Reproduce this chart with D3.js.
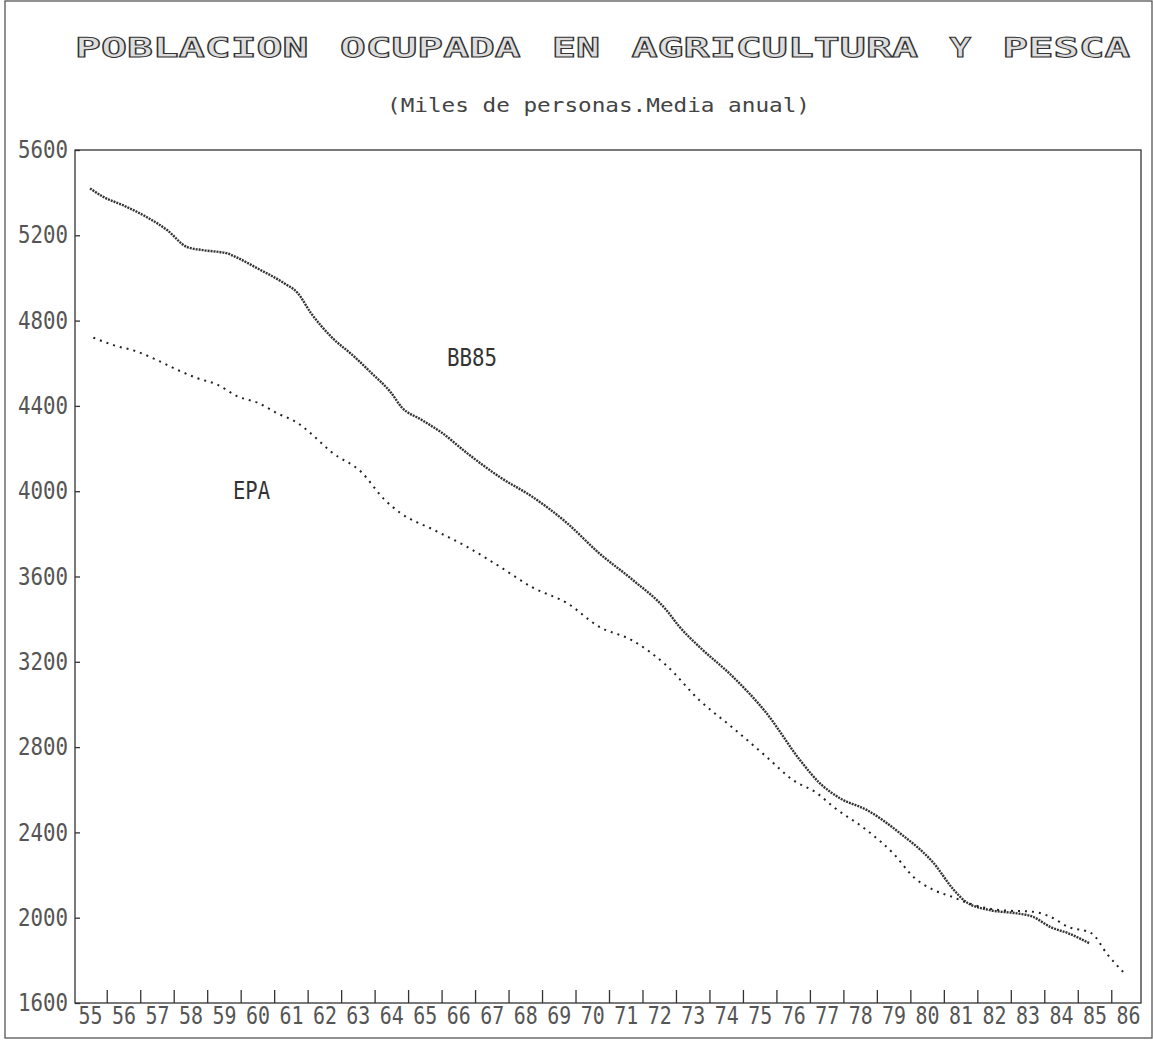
<!DOCTYPE html>
<html lang="es">
<head>
    <meta charset="UTF-8">
    <title>Poblacion ocupada en agricultura y pesca</title>
    <script src="https://d3js.org/d3.v7.min.js"></script>
    <style>
        body { margin: 0; background: #fff; }
        svg { display: block; }
        .mono { font-family: "DejaVu Sans Mono", "Liberation Mono", monospace; }
        .axis path, .axis line { stroke: #333; stroke-width: 1.3; }
        .axis text { font-family: "DejaVu Sans Mono", monospace; fill: #555; }
    </style>
</head>
<body>
<svg width="1153" height="1043"></svg>
<script>
    // --- data (years 19xx, thousands of persons) ---
    const yearLabels = d3.range(55, 87);
    const yTicks = [1600, 2000, 2400, 2800, 3200, 3600, 4000, 4400, 4800, 5200, 5600];

    const titleWords = ["POBLACION", "OCUPADA", "EN", "AGRICULTURA", "Y", "PESCA"];

    const bb85Years = [55.0, 55.4, 56.0, 56.7, 57.3, 57.9, 58.4, 59.1, 59.4, 60.0, 60.8, 61.2, 61.6,
        62.2, 62.9, 63.4, 64.0, 64.3, 64.9, 65.5, 66.25, 67.25, 68.2, 69.25, 70.2, 71.2, 72.2, 72.6,
        73.2, 74.2, 75.2, 76.2, 76.8, 77.4, 78.2, 79.2, 80.2, 80.8, 81.2, 81.9, 82.7, 83.15, 83.7, 84.2, 84.85];
    const bb85Values = [5420, 5380, 5340, 5285, 5225, 5145, 5130, 5115, 5095, 5045, 4975, 4930, 4835,
        4725, 4630, 4555, 4460, 4395, 4335, 4275, 4180, 4065, 3975, 3850, 3710, 3585, 3445, 3365,
        3270, 3130, 2960, 2740, 2630, 2560, 2505, 2395, 2255, 2130, 2070, 2035, 2020, 2005, 1955, 1928, 1880];

    const epaYears = [55.1, 55.7, 56.4, 57.0, 57.6, 58.2, 58.8, 59.4, 60.0, 60.6, 61.2, 61.6, 62.2,
        63.1, 63.8, 64.25, 65.25, 66.25, 67.25, 68.2, 69.25, 70.2, 71.2, 72.2, 73.2, 74.2, 75.2, 76.0,
        76.7, 77.2, 78.2, 79.0, 79.6, 80.2, 80.8, 81.2, 82.2, 83.15, 83.7, 84.2, 84.9, 85.4, 85.95];
    const epaValues = [4720, 4685, 4655, 4615, 4570, 4530, 4500, 4445, 4415, 4365, 4320, 4270, 4185,
        4090, 3960, 3900, 3820, 3740, 3645, 3550, 3475, 3365, 3300, 3185, 3020, 2890, 2755, 2645,
        2585, 2520, 2410, 2300, 2190, 2130, 2095, 2070, 2035, 2028, 2003, 1958, 1928, 1825, 1730];

    const svg = d3.select("svg");

    // plot frame
    const frame = { left: 75, top: 150, right: 1141, bottom: 1003 };

    const x = d3.scaleLinear().domain([55, 86]).range([90, 1128]);
    const y = d3.scaleLinear().domain([1600, 5600]).range([frame.bottom, frame.top]);

    // outer border
    svg.append("rect")
        .attr("x", 5).attr("y", 1).attr("width", 1147).attr("height", 1037)
        .attr("fill", "none").attr("stroke", "#555").attr("stroke-width", 1.3);

    // title: wide outlined letters on a fixed character grid (each cell ~26.5px)
    const cell = 1060 / 40;
    let col = 0;
    titleWords.forEach(w => {
        svg.append("text")
            .attr("class", "mono")
            .attr("x", 75 + col * cell).attr("y", 57)
            .attr("textLength", w.length * cell - 5).attr("lengthAdjust", "spacingAndGlyphs")
            .attr("font-size", 27).attr("font-weight", "bold")
            .attr("fill", "#ddd").attr("stroke", "#333").attr("stroke-width", 1)
            .style("text-rendering", "geometricPrecision")
            .text(w);
        col += w.length + 1;
    });

    svg.append("text")
        .attr("class", "mono")
        .attr("x", 387).attr("y", 112)
        .attr("textLength", 423).attr("lengthAdjust", "spacingAndGlyphs")
        .attr("font-size", 20).attr("fill", "#444")
        .text("(Miles de personas.Media anual)");

    svg.append("rect")
        .attr("x", frame.left).attr("y", frame.top)
        .attr("width", frame.right - frame.left).attr("height", frame.bottom - frame.top)
        .attr("fill", "none").attr("stroke", "#333").attr("stroke-width", 1.3);

    // y axis: small inward ticks
    const yAxis = svg.append("g")
        .attr("class", "axis")
        .attr("transform", "translate(" + frame.left + ",0)")
        .call(d3.axisLeft(y).tickValues(yTicks).tickSize(-5).tickPadding(7).tickFormat(d3.format("d")));
    yAxis.select(".domain").remove();
    yAxis.selectAll("text")
        .attr("font-size", 24)
        .attr("textLength", 50).attr("lengthAdjust", "spacingAndGlyphs");

    // x axis: tick marks between years, labels under each year
    const xTickAxis = svg.append("g")
        .attr("class", "axis")
        .attr("transform", "translate(0," + frame.bottom + ")")
        .call(d3.axisBottom(x).tickValues(d3.range(55.5, 86, 1)).tickSize(-13).tickFormat(""));
    xTickAxis.select(".domain").remove();

    const xLabelAxis = svg.append("g")
        .attr("class", "axis")
        .attr("transform", "translate(0," + frame.bottom + ")")
        .call(d3.axisBottom(x).tickValues(yearLabels).tickSize(0).tickPadding(3).tickFormat(d3.format("d")));
    xLabelAxis.select(".domain").remove();
    xLabelAxis.selectAll("text")
        .attr("font-size", 25)
        .attr("textLength", 24).attr("lengthAdjust", "spacingAndGlyphs");

    // series
    const line = d3.line()
        .x(d => x(d[0]))
        .y(d => y(d[1]))
        .curve(d3.curveMonotoneX);

    svg.append("path")
        .datum(d3.zip(bb85Years, bb85Values))
        .attr("d", line)
        .attr("fill", "none")
        .attr("stroke", "#333")
        .attr("stroke-width", 2.4)
        .attr("stroke-dasharray", "2,1");

    svg.append("path")
        .datum(d3.zip(epaYears, epaValues))
        .attr("d", line)
        .attr("fill", "none")
        .attr("stroke", "#222")
        .attr("stroke-width", 2)
        .attr("stroke-dasharray", "2,5");

    // series labels
    svg.append("text")
        .attr("class", "mono")
        .attr("x", 447).attr("y", 366)
        .attr("textLength", 50).attr("lengthAdjust", "spacingAndGlyphs")
        .attr("font-size", 24).attr("fill", "#333")
        .text("BB85");

    svg.append("text")
        .attr("class", "mono")
        .attr("x", 233).attr("y", 499)
        .attr("textLength", 37).attr("lengthAdjust", "spacingAndGlyphs")
        .attr("font-size", 24).attr("fill", "#333")
        .text("EPA");
</script>
</body>
</html>
